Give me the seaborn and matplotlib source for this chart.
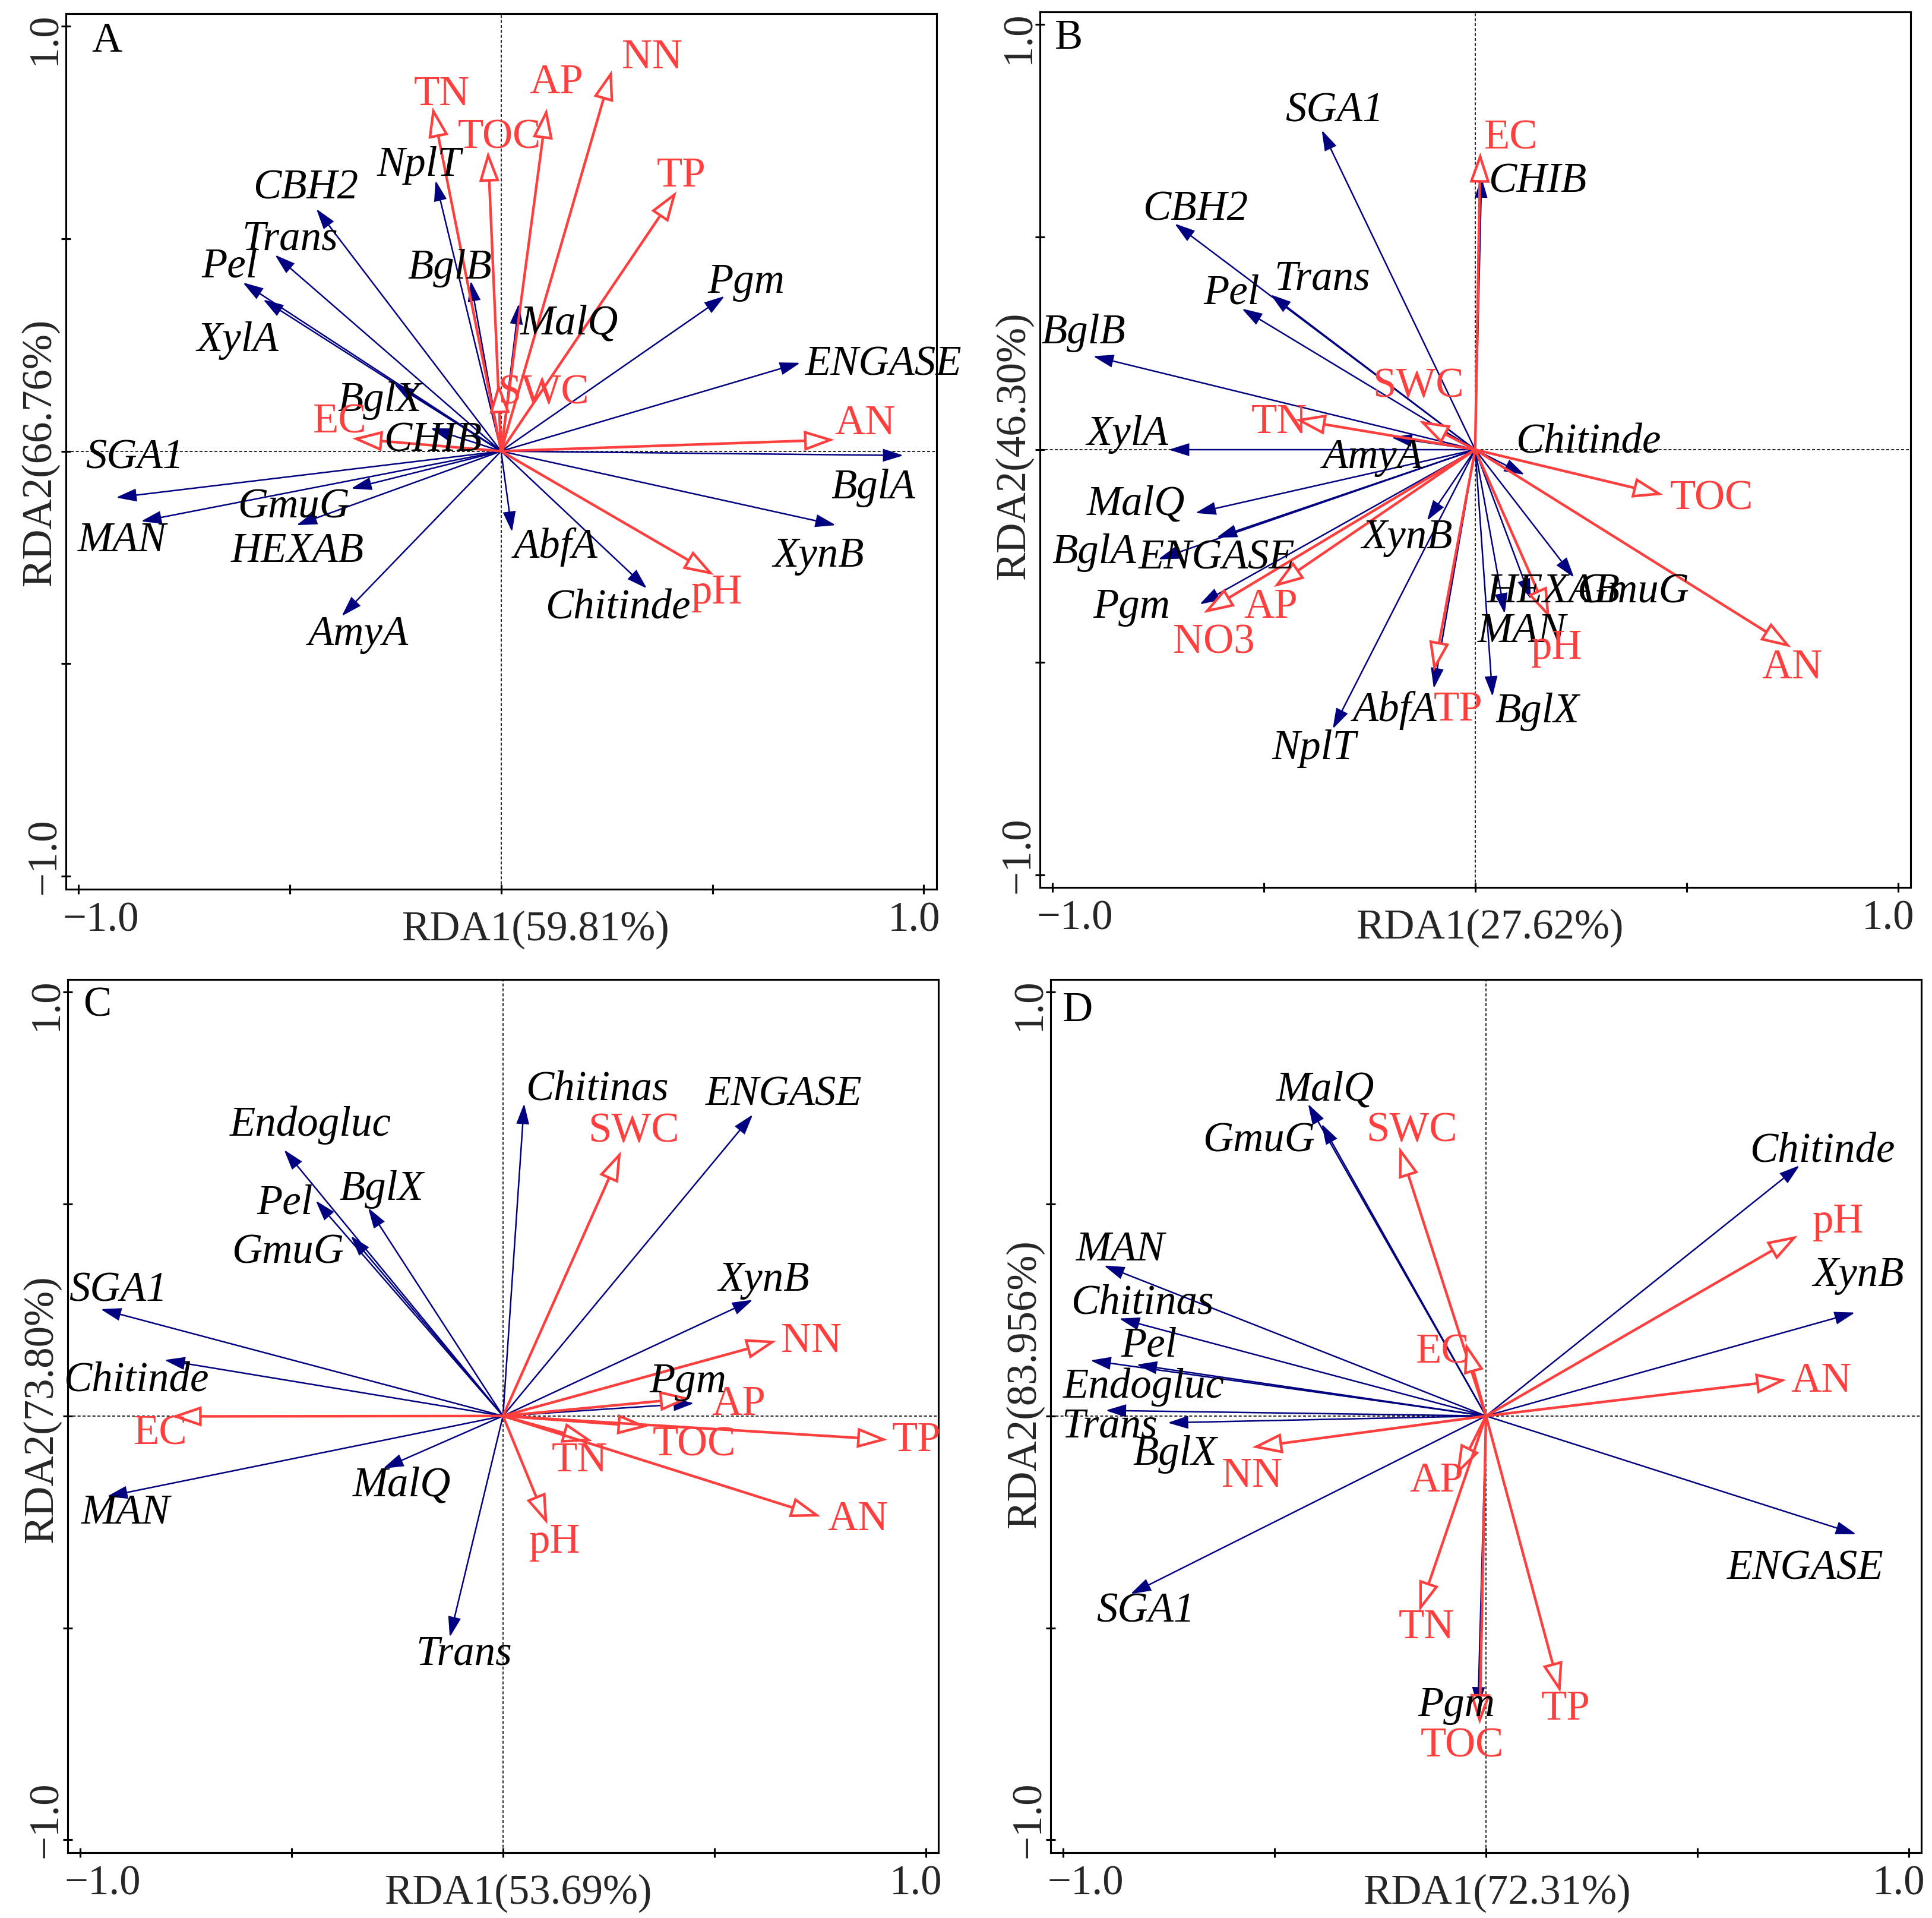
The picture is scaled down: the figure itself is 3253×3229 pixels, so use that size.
import matplotlib
matplotlib.use("Agg")
import matplotlib.pyplot as plt
from matplotlib.patches import FancyArrowPatch
import seaborn as sns

# ---------------- data (RDA scores) ----------------
a_axis = ("RDA1(59.81%)", "RDA2(66.76%)")
a_genes = ["NplT", "CBH2", "Trans", "Pel", "XylA", "BglB", "MalQ", "Pgm", "ENGASE", "BglA",
           "XynB", "Chitinde", "AbfA", "AmyA", "HEXAB", "GmuG", "MAN", "SGA1", "CHIB", "BglX"]
a_gene_x = [-0.155, -0.437, -0.535, -0.611, -0.563, -0.072, 0.042, 0.529, 0.708, 0.952,
            0.792, 0.345, 0.026, -0.377, -0.484, -0.355, -0.852, -0.911, -0.167, -0.253]
a_gene_y = [0.637, 0.570, 0.462, 0.397, 0.357, 0.401, 0.347, 0.365, 0.208, -0.010,
            -0.174, -0.323, -0.190, -0.388, -0.174, -0.088, -0.165, -0.109, 0.054, 0.158]
a_env = ["TN", "TOC", "AP", "NN", "TP", "SWC", "EC", "AN", "pH"]
a_env_x = [-0.162, -0.031, 0.108, 0.262, 0.415, -0.006, -0.352, 0.788, 0.503]
a_env_y = [0.809, 0.705, 0.806, 0.896, 0.611, 0.160, 0.030, 0.027, -0.291]

b_axis = ("RDA1(27.62%)", "RDA2(46.30%)")
b_genes = ["SGA1", "CHIB", "CBH2", "Trans", "Pel", "BglB", "XylA", "AmyA", "MalQ", "ENGASE",
           "BglA", "Pgm", "XynB", "NplT", "AbfA", "BglX", "MAN", "HEXAB", "GmuG", "Chitinde"]
b_gene_x = [-0.363, 0.015, -0.711, -0.484, -0.552, -0.904, -0.725, -0.198, -0.662, -0.612,
            -0.750, -0.652, -0.114, -0.337, -0.098, 0.041, 0.070, 0.132, 0.234, 0.117]
b_gene_y = [0.752, 0.641, 0.532, 0.365, 0.332, 0.220, 0.000, 0.029, -0.149, -0.207,
            -0.258, -0.364, -0.167, -0.657, -0.562, -0.581, -0.386, -0.352, -0.301, -0.059]
b_env = ["EC", "SWC", "TN", "AP", "NO3", "TP", "pH", "TOC", "AN"]
b_env_x = [0.012, -0.132, -0.425, -0.476, -0.642, -0.098, 0.176, 0.444, 0.747]
b_env_y = [0.699, 0.068, 0.071, -0.323, -0.384, -0.522, -0.396, -0.106, -0.465]

c_axis = ("RDA1(53.69%)", "RDA2(73.80%)")
c_genes = ["Chitinas", "ENGASE", "Endogluc", "BglX", "Pel", "GmuG", "SGA1", "Chitinde",
           "MAN", "MalQ", "Trans", "XynB", "Pgm"]
c_gene_x = [0.050, 0.591, -0.518, -0.319, -0.443, -0.360, -0.952, -0.801,
            -0.937, -0.284, -0.126, 0.591, 0.452]
c_gene_y = [0.737, 0.711, 0.628, 0.491, 0.508, 0.425, 0.252, 0.132,
            -0.190, -0.124, -0.522, 0.274, 0.030]
c_env = ["SWC", "NN", "AP", "TOC", "TN", "TP", "AN", "pH", "EC"]
c_env_x = [0.279, 0.646, 0.442, 0.342, 0.211, 0.909, 0.751, 0.105, -0.784]
c_env_y = [0.624, 0.177, 0.042, -0.025, -0.059, -0.056, -0.237, -0.255, -0.001]

d_axis = ("RDA1(72.31%)", "RDA2(83.956%)")
d_genes = ["MalQ", "GmuG", "Chitinde", "MAN", "Chitinas", "Pel", "Endogluc", "Trans",
           "BglX", "XynB", "ENGASE", "SGA1", "Pgm"]
d_gene_x = [-0.421, -0.389, 0.742, -0.904, -0.868, -0.827, -0.936, -0.900,
            -0.753, 0.873, 0.876, -0.841, -0.019]
d_gene_y = [0.736, 0.689, 0.591, 0.355, 0.230, 0.121, 0.131, 0.013,
            -0.016, 0.244, -0.279, -0.420, -0.688]
d_env = ["SWC", "EC", "pH", "AN", "NN", "AP", "TN", "TP", "TOC"]
d_env_x = [-0.205, -0.048, 0.737, 0.710, -0.553, -0.070, -0.158, 0.176, -0.015]
d_env_y = [0.634, 0.172, 0.425, 0.085, -0.074, -0.139, -0.461, -0.652, -0.727]

# ---------------- label placement (layout only) ----------------
a_gene_lab = [(-0.194, 0.673), (-0.462, 0.618), (-0.499, 0.499), (-0.642, 0.434), (-0.623, 0.260),
              (-0.121, 0.430), (0.162, 0.300), (0.580, 0.397), (0.905, 0.203), (0.880, -0.087),
              (0.751, -0.247), (0.276, -0.370), (0.130, -0.226), (-0.338, -0.431), (-0.482, -0.236),
              (-0.491, -0.132), (-0.896, -0.211), (-0.867, -0.016), (-0.162, 0.025), (-0.287, 0.119)]
a_env_lab = [(-0.140, 0.839), (-0.004, 0.737), (0.130, 0.867), (0.357, 0.926), (0.427, 0.647),
             (0.101, 0.136), (-0.382, 0.068), (0.861, 0.064), (0.510, -0.334)]
b_gene_lab = [(-0.333, 0.797), (0.147, 0.630), (-0.662, 0.564), (-0.362, 0.401), (-0.576, 0.368),
              (-0.927, 0.274), (-0.823, 0.036), (-0.242, -0.019), (-0.803, -0.128), (-0.612, -0.255),
              (-0.901, -0.243), (-0.813, -0.371), (-0.161, -0.207), (-0.381, -0.703), (-0.190, -0.613),
              (0.147, -0.617), (0.110, -0.428), (0.186, -0.335), (0.374, -0.335), (0.267, 0.017)]
b_env_lab = [(0.085, 0.732), (-0.135, 0.148), (-0.464, 0.064), (-0.484, -0.371), (-0.618, -0.454),
             (-0.040, -0.613), (0.193, -0.468), (0.560, -0.116), (0.750, -0.514)]
c_gene_lab = [(0.222, 0.770), (0.664, 0.758), (-0.455, 0.686), (-0.287, 0.534), (-0.516, 0.501),
              (-0.509, 0.385), (-0.911, 0.295), (-0.868, 0.082), (-0.893, -0.230), (-0.240, -0.164),
              (-0.092, -0.562), (0.617, 0.320), (0.437, 0.081)]
c_env_lab = [(0.310, 0.671), (0.730, 0.175), (0.558, 0.027), (0.452, -0.069), (0.181, -0.106),
             (0.978, -0.059), (0.839, -0.245), (0.123, -0.298), (-0.810, -0.042)]
d_gene_lab = [(-0.380, 0.769), (-0.538, 0.649), (0.796, 0.623), (-0.865, 0.392), (-0.813, 0.266),
              (-0.797, 0.165), (-0.809, 0.068), (-0.890, -0.026), (-0.736, -0.091), (0.881, 0.331),
              (0.756, -0.360), (-0.806, -0.461), (-0.070, -0.684)]
d_env_lab = [(-0.176, 0.673), (-0.102, 0.150), (0.834, 0.457), (0.793, 0.082), (-0.553, -0.143),
             (-0.117, -0.153), (-0.140, -0.500), (0.189, -0.692), (-0.056, -0.779)]

panels = [
    dict(tag="A", axis=a_axis, genes=a_genes, gx=a_gene_x, gy=a_gene_y, glab=a_gene_lab,
         env=a_env, ex=a_env_x, ey=a_env_y, elab=a_env_lab,
         rect=[0.0340, 0.5365, 0.4507, 0.4565], letter=(0.047, 0.968), xl=0.540, yl=0.499),
    dict(tag="B", axis=b_axis, genes=b_genes, gx=b_gene_x, gy=b_gene_y, glab=b_gene_lab,
         env=b_env, ex=b_env_x, ey=b_env_y, elab=b_env_lab,
         rect=[0.5382, 0.5373, 0.4507, 0.4565], letter=(0.033, 0.970), xl=0.517, yl=0.505),
    dict(tag="C", axis=c_axis, genes=c_genes, gx=c_gene_x, gy=c_gene_y, glab=c_gene_lab,
         env=c_env, ex=c_env_x, ey=c_env_y, elab=c_env_lab,
         rect=[0.0350, 0.0341, 0.4507, 0.4553], letter=(0.034, 0.970), xl=0.518, yl=0.508),
    dict(tag="D", axis=d_axis, genes=d_genes, gx=d_gene_x, gy=d_gene_y, glab=d_gene_lab,
         env=d_env, ex=d_env_x, ey=d_env_y, elab=d_env_lab,
         rect=[0.5438, 0.0341, 0.4507, 0.4553], letter=(0.031, 0.964), xl=0.513, yl=0.537),
]

BLUE = "#000080"
RED = "#FF3E3E"
FS = 17
MINUS = "\u2212"

sns.set_theme(style="white")
plt.rcParams["font.family"] = ["Liberation Serif", "DejaVu Serif"]
plt.rcParams["axes.unicode_minus"] = True


def arrow(ax, x, y, color, lw, hl, hw, face, z):
    p = FancyArrowPatch((0, 0), (x, y),
                        arrowstyle=f"-|>,head_length={hl},head_width={hw}",
                        mutation_scale=1, shrinkA=0, shrinkB=0, lw=lw,
                        ec=color, fc=face, joinstyle="miter", zorder=z)
    ax.add_patch(p)


fig = plt.figure(figsize=(3253 / 300, 3229 / 300), dpi=300)

for pn in panels:
    ax = fig.add_axes(pn["rect"])
    ax.set_xlim(-1.03, 1.03)
    ax.set_ylim(-1.03, 1.03)
    ax.set_facecolor("white")
    for s in ax.spines.values():
        s.set_visible(True)
        s.set_color("black")
        s.set_linewidth(0.75)
    ticks = [-1, -0.5, 0, 0.5, 1]
    ax.set_xticks(ticks)
    ax.set_yticks(ticks)
    ax.set_xticklabels([""] * 5)
    ax.set_yticklabels([""] * 5)
    ax.tick_params(direction="inout", length=4, width=0.75, color="black",
                   bottom=True, left=True, top=False, right=False)
    ax.grid(False)

    ax.axhline(0, color="black", lw=0.4, dashes=[3, 2], zorder=1)
    ax.axvline(0, color="black", lw=0.4, dashes=[3, 2], zorder=1)

    # gene arrows (blue, filled heads) and environmental arrows (red, open heads)
    for x, y in zip(pn["gx"], pn["gy"]):
        arrow(ax, x, y, BLUE, 0.6, 7, 2.2, BLUE, 3)
    for x, y in zip(pn["ex"], pn["ey"]):
        arrow(ax, x, y, RED, 1.05, 10, 3.4, "white", 4)

    for name, (lx, ly) in zip(pn["genes"], pn["glab"]):
        ax.text(lx, ly, name, ha="center", va="center", fontsize=FS,
                style="italic", color="black", zorder=6)
    for name, (lx, ly) in zip(pn["env"], pn["elab"]):
        ax.text(lx, ly, name, ha="center", va="center", fontsize=FS,
                color=RED, zorder=6)

    ax.text(pn["letter"][0], pn["letter"][1], pn["tag"], transform=ax.transAxes,
            ha="center", va="center", fontsize=FS, color="black", zorder=7)

    # tick labels only at the ends
    xt = ax.get_xaxis_transform()
    yt = ax.get_yaxis_transform()
    ax.annotate(MINUS + "1.0", xy=(-1, 0), xycoords=xt, xytext=(9, -17),
                textcoords="offset points", ha="center", va="baseline", fontsize=FS)
    ax.annotate("1.0", xy=(1, 0), xycoords=xt, xytext=(-4, -17),
                textcoords="offset points", ha="center", va="baseline", fontsize=FS)
    ax.annotate("1.0", xy=(0, 1), xycoords=yt, xytext=(-4.2, -5),
                textcoords="offset points", ha="center", va="baseline", fontsize=FS,
                rotation=90, rotation_mode="anchor")
    ax.annotate(MINUS + "1.0", xy=(0, -1), xycoords=yt, xytext=(-4.2, 8),
                textcoords="offset points", ha="center", va="baseline", fontsize=FS,
                rotation=90, rotation_mode="anchor")

    # axis titles
    ax.annotate(pn["axis"][0], xy=(pn["xl"], 0), xycoords="axes fraction",
                xytext=(0, -20.6), textcoords="offset points",
                ha="center", va="baseline", fontsize=FS)
    ax.annotate(pn["axis"][1], xy=(0, pn["yl"]), xycoords="axes fraction",
                xytext=(-6.3, 0), textcoords="offset points",
                ha="center", va="baseline", fontsize=FS,
                rotation=90, rotation_mode="anchor")

fig.savefig("out.png", dpi=300, facecolor="white")
